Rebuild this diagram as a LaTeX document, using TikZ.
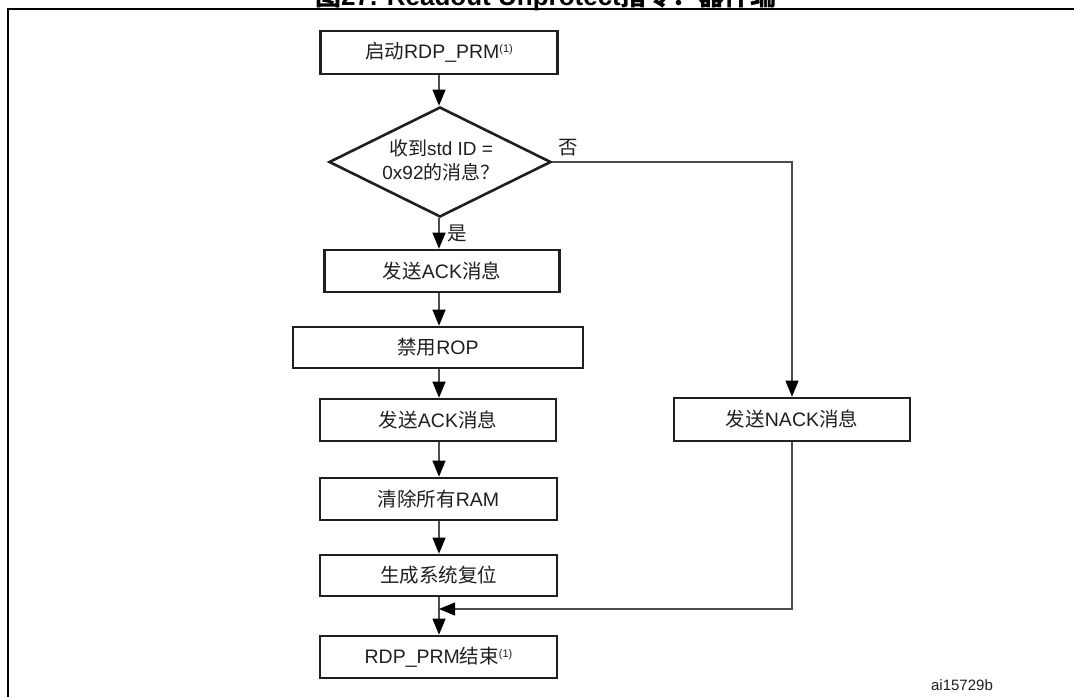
\documentclass[tikz,border=0pt]{standalone}
\usepackage{fontspec}
\setmainfont{Liberation Sans}
\newfontfamily\cjk{Noto Sans CJK SC}
\newcommand\zh[1]{{\cjk #1}}
\newcommand\fnref{\raisebox{0.6ex}{\fontsize{11bp}{11bp}\selectfont(1)}}
\usetikzlibrary{shapes.geometric,arrows.meta}
\begin{document}
\begin{tikzpicture}[x=1bp,y=-1bp,
  every node/.style={font=\fontsize{19.5bp}{24bp}\selectfont, text=black!88},
  box/.style={draw=black!88, line width=2.6bp, minimum height=42bp, inner sep=0pt, fill=white},
  cond/.style={diamond, draw=black!88, line width=2.6bp, minimum width=222bp, minimum height=110bp, inner sep=0pt},
  flow/.style={draw=black!70, line width=1.1bp},
  tip/.style={-{Triangle[length=16bp,width=13bp,color=black,fill=black]}},
  lbl/.style={inner sep=0pt}
]
\useasboundingbox (0,0) rectangle (1074,697);
\clip (0,0) rectangle (1074,697);
\fill[white] (0,0) rectangle (1074,697);

% outer frame
\draw[line width=2bp] (8.3,720) -- (8.3,9.3) -- (1100,9.3);

% caption
\node[anchor=base, inner sep=0pt, font=\fontsize{26bp}{26bp}\selectfont\bfseries, text=black] (title) at (546,5.5)
  {\zh{\bfseries 图}27. Readout Unprotect\zh{\bfseries 指令：器件端}};

% column of the main flow
\coordinate (col) at (439,0);

% process steps
\node[box, minimum width=237bp, minimum height=43bp] (start) at (439,52.5) {\zh{启动}RDP\_PRM\fnref};
\node[cond] (dec) at (440,162) {};
\node[lbl, align=center, font=\fontsize{19bp}{24bp}\selectfont] (dectext) at (441,160) {\zh{收到}std ID =\\0x92\zh{的消息？}};
\node[box, minimum width=235bp] (ack1) at (442,271) {\zh{发送}ACK\zh{消息}};
\node[box, minimum width=290bp, minimum height=41bp] (rop) at (438,347.5) {\zh{禁用}ROP};
\node[box, minimum width=236bp] (ack2) at (438,420) {\zh{发送}ACK\zh{消息}};
\node[box, minimum width=237bp] (clr) at (438.5,499) {\zh{清除所有}RAM};
\node[box, minimum width=237bp, minimum height=41bp] (rst) at (438.5,575.5) {\zh{生成系统复位}};
\node[box, minimum width=237bp] (end) at (438.5,657) {RDP\_PRM\zh{结束}\fnref};
\node[box, minimum width=236bp, minimum height=43bp] (nack) at (792,419.5) {\zh{发送}NACK\zh{消息}};

% branch labels
\node[lbl] (no) at (568,148) {\zh{否}};
\node[lbl] (yes) at (457,233) {\zh{是}};

% connectors
\draw[flow,tip] (start.south -| col) -- (dec.north -| col);
\draw[flow,tip] (dec.south -| col) -- (ack1.north -| col);
\draw[flow,tip] (ack1.south -| col) -- (rop.north -| col);
\draw[flow,tip] (rop.south -| col) -- (ack2.north -| col);
\draw[flow,tip] (ack2.south -| col) -- (clr.north -| col);
\draw[flow,tip] (clr.south -| col) -- (rst.north -| col);
\draw[flow,tip] (rst.south -| col) -- (end.north -| col);
\draw[flow,tip] (dec.east) -| (nack.north);
\coordinate (merge) at (439,609);
\draw[flow,tip] (nack.south) |- (merge);

% drawing reference
\node[lbl, font=\fontsize{15bp}{15bp}\selectfont] (figid) at (962,685) {ai15729b};
\end{tikzpicture}
\end{document}
